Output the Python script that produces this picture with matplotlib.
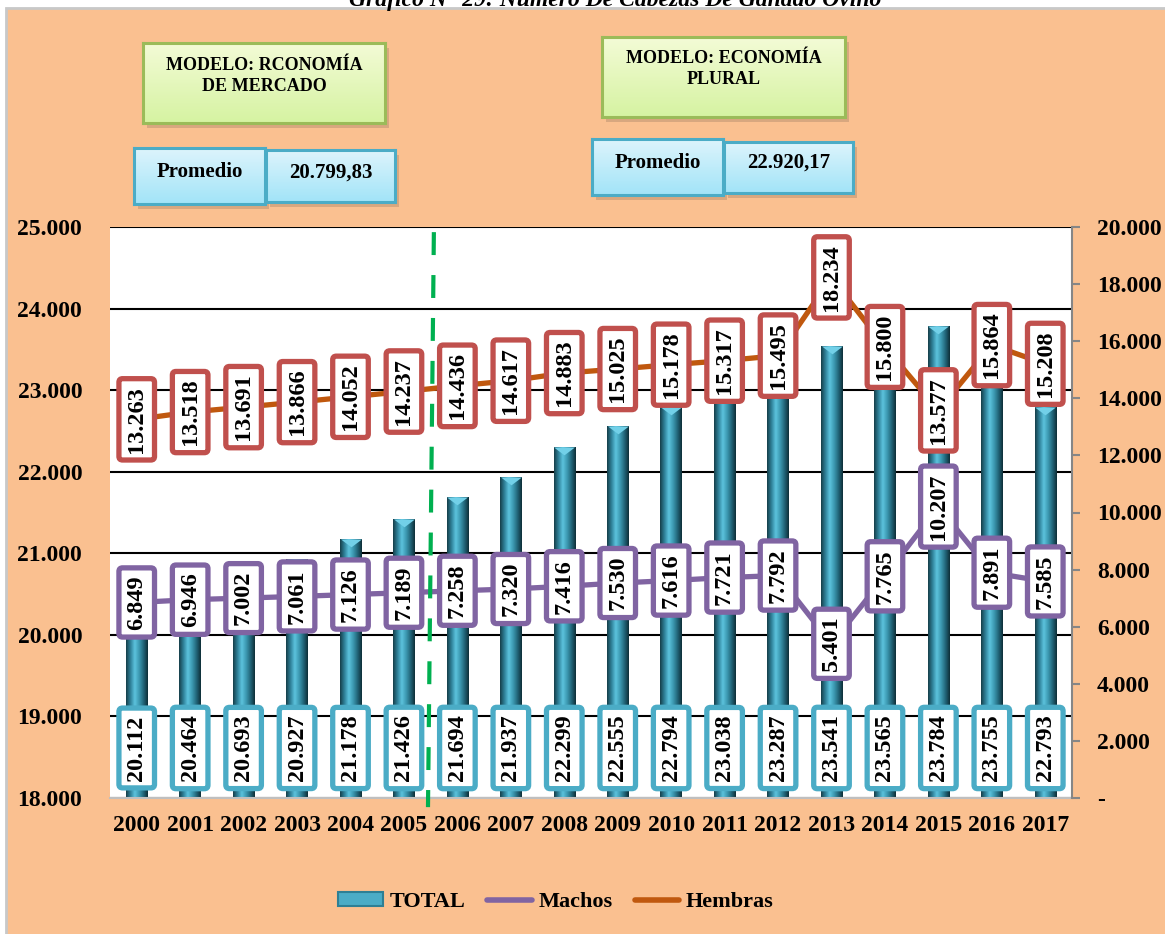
import matplotlib
matplotlib.use('Agg')
import matplotlib.pyplot as plt
import numpy as np
from matplotlib.patches import Rectangle, Patch
from matplotlib.lines import Line2D
from matplotlib.colors import LinearSegmentedColormap
from matplotlib.ticker import FuncFormatter

plt.rcParams['font.family'] = ['Liberation Serif', 'DejaVu Serif']
plt.rcParams['font.weight'] = 'bold'

# data
years = [str(y) for y in range(2000, 2018)]
total = [20112, 20464, 20693, 20927, 21178, 21426, 21694, 21937, 22299,
         22555, 22794, 23038, 23287, 23541, 23565, 23784, 23755, 22793]
machos = [6849, 6946, 7002, 7061, 7126, 7189, 7258, 7320, 7416,
          7530, 7616, 7721, 7792, 5401, 7765, 10207, 7891, 7585]
hembras = [13263, 13518, 13691, 13866, 14052, 14237, 14436, 14617, 14883,
           15025, 15178, 15317, 15495, 18234, 15800, 13577, 15864, 15208]
title = 'Gráfico N° 29: Número De Cabezas De Ganado Ovino'
modelo_1 = 'MODELO: RCONOMÍA\nDE MERCADO'
modelo_2 = 'MODELO: ECONOMÍA\nPLURAL'
promedio_1 = '20.799,83'
promedio_2 = '22.920,17'

W, H = 1165, 934
PEACH = '#FAC090'
C_TOTAL = '#4BACC6'
C_MACHOS = '#8064A2'
C_HEMBRAS = '#C0580E'
C_HEMBRAS_BOX = '#C0504D'
LABEL_FS = 17.5


def fmt(v):
    return f'{int(v):,}'.replace(',', '.')


def box(ec):
    return dict(boxstyle='round,pad=0.3,rounding_size=0.15', fc='white', ec=ec, lw=3.8)


fig = plt.figure(figsize=(W / 100, H / 100), dpi=100, facecolor=PEACH)


def px_axes(x0, y0, x1, y1):
    return fig.add_axes([x0 / W, 1 - y1 / H, (x1 - x0) / W, (y1 - y0) / H])


# white margin at the top and left, gray frame round the peach panel
fig.patches.append(Rectangle((0, 1 - 9 / H), 1, 9 / H, transform=fig.transFigure,
                             fc='white', ec='none', zorder=-3))
fig.patches.append(Rectangle((0, 0), 6 / W, 1, transform=fig.transFigure,
                             fc='white', ec='none', zorder=-3))
fig.patches.append(Rectangle((6 / W, -0.01), 1.0, 1 - 8 / H + 0.01, transform=fig.transFigure,
                             fc='none', ec='#C8C8C8', lw=2, zorder=-2))
fig.text(0.528, 1 - 6 / H, title, ha='center', va='baseline', style='italic', fontsize=17)


def gradient_box(x0, y0, x1, y1, c_top, c_bot, edge, text, fs, ty):
    fig.patches.append(Rectangle(((x0 + 4) / W, 1 - (y1 + 5) / H), (x1 - x0) / W, (y1 - y0) / H,
                                 transform=fig.transFigure, fc='#9A7A60', alpha=0.35,
                                 ec='none', zorder=-1))
    b = px_axes(x0, y0, x1, y1)
    cm = LinearSegmentedColormap.from_list('g', [c_top, c_bot])
    b.imshow(np.linspace(0, 1, 60).reshape(-1, 1), cmap=cm, aspect='auto', extent=[0, 1, 0, 1])
    b.set_xlim(0, 1)
    b.set_ylim(0, 1)
    b.set_xticks([])
    b.set_yticks([])
    for s in b.spines.values():
        s.set_color(edge)
        s.set_linewidth(2.2)
    b.text(0.5, ty, text, ha='center', va='center', fontsize=fs, linespacing=1.3)


gradient_box(143, 43, 385, 123, '#F3FBD6', '#D6F3A2', '#9BBB59', modelo_1, 13, 0.59)
gradient_box(602, 37, 845, 117, '#F3FBD6', '#D6F3A2', '#9BBB59', modelo_2, 13, 0.60)
gradient_box(134, 148, 265, 204, '#DDF4FC', '#A2E4F8', '#4BACC6', 'Promedio', 15, 0.57)
gradient_box(266, 150, 395, 202, '#DDF4FC', '#A2E4F8', '#4BACC6', promedio_1, 15, 0.56)
gradient_box(592, 139, 723, 195, '#DDF4FC', '#A2E4F8', '#4BACC6', 'Promedio', 15, 0.57)
gradient_box(724, 142, 853, 193, '#DDF4FC', '#A2E4F8', '#4BACC6', promedio_2, 15, 0.59)

# main chart
ax = px_axes(110, 227, 1072, 798)
ax.set_facecolor('white')
x = np.arange(len(years))
y0 = 18000
bars = ax.bar(x, total, width=0.4, color=C_TOTAL, zorder=2)
cyl = LinearSegmentedColormap.from_list(
    'cyl', ['#163F4A', '#2F8199', '#5CC3DD', '#3D9AB2', '#22667A', '#0E2F38'])
grad = np.linspace(0, 1, 64).reshape(1, -1)
for xi, v, b in zip(x, total, bars):
    im = ax.imshow(grad, extent=[xi - 0.2, xi + 0.2, y0, v], aspect='auto', cmap=cyl, zorder=2)
    im.set_clip_path(b)
# light bevel on top of each column
cap = [(-1, 0), (1, 0), (0, -0.75), (-1, 0)]
ax.plot(x, total, ls='none', marker=cap, ms=15, mfc='#72D0E8', mec='none', zorder=2.5)
ax.set_xlim(-0.5, 17.5)
ax.set_ylim(y0, 25000)
ax.set_yticks(range(18000, 25001, 1000))
ax.yaxis.set_major_formatter(FuncFormatter(lambda v, _: fmt(v)))
ax.yaxis.grid(True, color='black', lw=1.5)
ax.set_axisbelow(True)
ax.set_xticks(x)
ax.set_xticklabels(years)
ax.tick_params(axis='y', length=0, pad=20, labelsize=17)
ax.tick_params(axis='x', length=0, pad=12, labelsize=17)
for s in ['left', 'top', 'right']:
    ax.spines[s].set_visible(False)
ax.spines['bottom'].set_color('#BFBFBF')
ax.spines['bottom'].set_linewidth(1.5)

for xi, v in zip(x, total):
    ax.text(xi, 0.0876, fmt(v), transform=ax.get_xaxis_transform(), rotation=90,
            ha='center', va='center', fontsize=LABEL_FS, zorder=4, bbox=box(C_TOTAL))

ax2 = ax.twinx()
ax2.set_ylim(0, 20000)
ax2.set_yticks(range(0, 20001, 2000))
ax2.yaxis.set_major_formatter(FuncFormatter(lambda v, _: '-' if v == 0 else fmt(v)))
ax2.tick_params(axis='y', length=6, width=1.5, color='#868686', pad=12, labelsize=17)
for s in ['left', 'top', 'bottom']:
    ax2.spines[s].set_visible(False)
ax2.spines['right'].set_color('#868686')
ax2.spines['right'].set_linewidth(1.5)

ax2.plot(x, machos, color=C_MACHOS, lw=3.8, zorder=3)
ax2.plot(x, hembras, color=C_HEMBRAS, lw=3.8, zorder=3)
for xi, v in zip(x, machos):
    ax2.text(xi, v, fmt(v), rotation=90, ha='center', va='center', fontsize=LABEL_FS,
             zorder=5, bbox=box(C_MACHOS))
for xi, v in zip(x, hembras):
    ax2.text(xi, v, fmt(v), rotation=90, ha='center', va='center', fontsize=LABEL_FS,
             zorder=5, bbox=box(C_HEMBRAS_BOX))

# dashed divider between the two models
ax2.plot([5.56, 5.45], [0.991, -0.016], transform=ax2.get_xaxis_transform(), clip_on=False,
         color='#00B050', lw=3, dashes=[5.5, 4.8], zorder=6)

handles = [Patch(fc=C_TOTAL, ec='#2E7F94', lw=1.5),
           Line2D([], [], color=C_MACHOS, lw=4, solid_capstyle='round'),
           Line2D([], [], color=C_HEMBRAS, lw=4, solid_capstyle='round')]
fig.legend(handles, ['TOTAL', 'Machos', 'Hembras'], loc='center', bbox_to_anchor=(556 / W, 1 - 902 / H),
           ncol=3, frameon=False, fontsize=16, handlelength=2.0, handleheight=0.6,
           columnspacing=1.0, handletextpad=0.3)

fig.savefig('out.png', dpi=100, facecolor=PEACH)
